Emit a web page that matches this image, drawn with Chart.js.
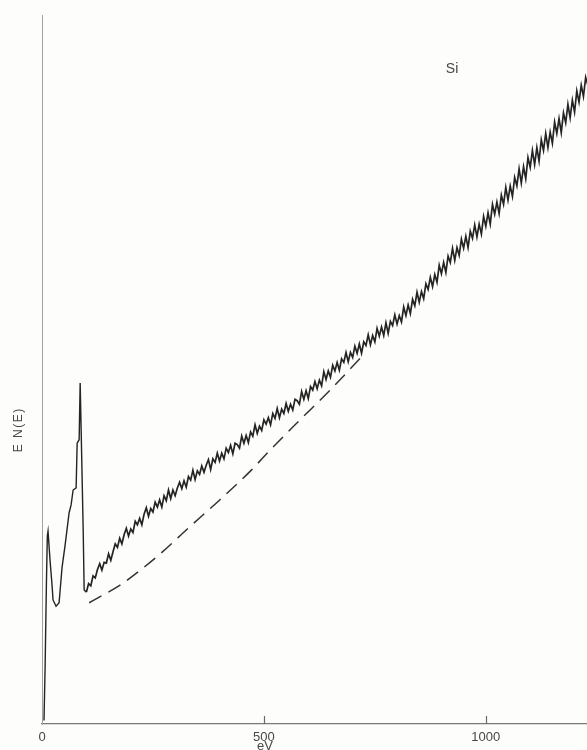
<!DOCTYPE html>
<html>
<head>
<meta charset="utf-8">
<title>Si E N(E) spectrum</title>
<script src="https://cdn.jsdelivr.net/npm/chart.js@4.4.1/dist/chart.umd.min.js"></script>
<style>
  html, body { margin: 0; padding: 0; background: #fdfdfc; }
  #wrap { width: 587px; height: 750px; }
</style>
</head>
<body>
<div id="wrap"><canvas id="spectrumChart" width="587" height="750"></canvas></div>
<script>
// ----- Data (arbitrary units for E N(E)) -----
// low energy part: spike near zero and the Si LVV peak
const peakEnergy = [4.5, 7, 10, 12, 13.6, 15.8, 18.1, 22.6, 24.9, 31.7, 38.5, 45.2, 52.0,
  61.1, 65.6, 70.1, 76.9, 79.2, 83.7, 86.0, 88.2, 92.8, 95.0, 100];
const peakCounts = [0.5, 8, 20, 26.5, 27.2, 25.2, 23.1, 19.6, 17.5, 16.6, 17.1, 22.1, 25.2,
  29.8, 30.9, 33.0, 33.3, 39.6, 40.1, 48.1, 41.5, 27.4, 18.9, 18.6];

// noisy secondary spectrum above 100 eV
const mainEnergy = [
  100, 105, 110, 115, 120, 125, 130, 135, 140, 145,
  150, 155, 160, 165, 170, 175, 180, 185, 190, 195,
  200, 205, 210, 215, 220, 225, 230, 235, 240, 245,
  250, 255, 260, 265, 270, 275, 280, 285, 290, 295,
  300, 305, 310, 315, 320, 325, 330, 335, 340, 345,
  350, 355, 360, 365, 370, 375, 380, 385, 390, 395,
  400, 405, 410, 415, 420, 425, 430, 435, 440, 445,
  450, 455, 460, 465, 470, 475, 480, 485, 490, 495,
  500, 505, 510, 515, 520, 525, 530, 535, 540, 545,
  550, 555, 560, 565, 570, 575, 580, 585, 590, 595,
  600, 605, 610, 615, 620, 625, 630, 635, 640, 645,
  650, 655, 660, 665, 670, 675, 680, 685, 690, 695,
  700, 705, 710, 715, 720, 725, 730, 735, 740, 745,
  750, 755, 760, 765, 770, 775, 780, 785, 790, 795,
  800, 805, 810, 815, 820, 825, 830, 835, 840, 845,
  850, 855, 860, 865, 870, 875, 880, 885, 890, 895,
  900, 905, 910, 915, 920, 925, 930, 935, 940, 945,
  950, 955, 960, 965, 970, 975, 980, 985, 990, 995,
  1000, 1005, 1010, 1015, 1020, 1025, 1030, 1035, 1040, 1045,
  1050, 1055, 1060, 1065, 1070, 1075, 1080, 1085, 1090, 1095,
  1100, 1105, 1110, 1115, 1120, 1125, 1130, 1135, 1140, 1145,
  1150, 1155, 1160, 1165, 1170, 1175, 1180, 1185, 1190, 1195,
  1200, 1205, 1210, 1215, 1220, 1225, 1230];
const mainCounts = [
  18.6, 19.8, 19.5, 20.9, 20.6, 21.8, 22.6, 21.7, 22.8, 22.7,
  24.0, 23.1, 24.3, 25.4, 24.9, 26.2, 25.4, 26.7, 27.6, 26.5,
  27.5, 27.0, 28.6, 28.1, 29.0, 28.1, 29.6, 30.5, 29.3, 30.4,
  29.9, 31.3, 30.6, 31.6, 30.6, 32.2, 31.5, 33.0, 31.8, 33.0,
  32.2, 33.3, 34.1, 33.2, 34.3, 33.4, 34.9, 34.4, 35.8, 34.5,
  35.7, 35.2, 36.4, 35.5, 36.5, 37.3, 35.9, 37.4, 36.9, 38.2,
  37.1, 38.2, 37.4, 38.9, 38.3, 39.3, 38.1, 39.6, 39.4, 38.9,
  40.6, 39.6, 40.7, 39.7, 41.2, 40.6, 42.2, 41.0, 42.0, 41.4,
  42.9, 42.3, 43.2, 42.2, 43.8, 43.1, 44.5, 43.2, 44.4, 43.8,
  45.2, 44.1, 45.1, 44.3, 45.8, 45.6, 45.1, 46.9, 45.8, 47.0,
  45.9, 47.6, 47.1, 48.3, 47.3, 48.5, 47.7, 49.7, 48.6, 49.8,
  48.9, 50.6, 49.8, 51.0, 49.9, 51.5, 51.0, 52.4, 51.1, 52.4,
  51.7, 53.3, 52.3, 53.6, 52.3, 53.9, 53.4, 54.9, 53.5, 54.8,
  53.9, 55.8, 54.7, 56.0, 54.8, 56.6, 55.1, 56.8, 56.2, 57.7,
  56.4, 57.6, 56.7, 58.8, 57.6, 59.1, 57.9, 59.9, 59.0, 60.9,
  59.5, 61.0, 60.0, 62.1, 61.3, 63.0, 61.7, 63.4, 62.3, 64.7,
  63.5, 65.1, 63.7, 66.0, 65.1, 67.1, 65.4, 67.2, 66.1, 68.4,
  67.1, 68.8, 67.2, 69.5, 68.5, 70.4, 68.7, 70.5, 69.1, 71.6,
  70.2, 72.1, 70.5, 73.3, 71.9, 73.6, 72.0, 74.6, 73.3, 75.7,
  73.9, 75.9, 74.4, 77.1, 75.9, 78.3, 76.3, 78.6, 76.9, 79.9,
  78.5, 80.9, 78.9, 81.3, 79.4, 82.4, 80.9, 83.3, 81.3, 83.5,
  81.9, 84.9, 83.3, 85.4, 83.4, 86.2, 84.8, 87.4, 85.5, 88.0,
  86.3, 89.3, 87.7, 90.1, 88.5, 91.2, 90.1];

// dashed background curve
const bgEnergy = [106.3, 129.0, 174.2, 219.5, 264.7, 332.6, 400.4, 468.3, 518.1, 581.4, 649.3, 717.2];
const bgCounts = [17.1, 17.9, 19.5, 21.6, 23.9, 27.8, 31.6, 35.6, 38.9, 42.9, 47.1, 51.6];

const xTickValues = [0, 500, 1000];
const sampleLabel = "Si";
const xAxisLabel = "eV";
const yAxisLabel = "E N(E)";

const inkColor = "#242424";
const textColor = "#474747";
const fontFamily = "'Liberation Sans', Arial, sans-serif";

function toPoints(xs, ys) {
  return xs.map((x, i) => ({ x: x, y: ys[i] }));
}

// ----- Extra drawing: inward ticks and free text labels -----
const labelPlugin = {
  id: "labelPlugin",
  afterDraw(chart) {
    const ctx = chart.ctx;
    const xScale = chart.scales.x;
    const yScale = chart.scales.y;
    ctx.save();

    // short tick marks pointing up into the plot
    ctx.strokeStyle = "#6a6a6a";
    ctx.lineWidth = 1.2;
    xTickValues.forEach(v => {
      if (v === 0) return;
      const px = Math.round(xScale.getPixelForValue(v)) + 0.5;
      ctx.beginPath();
      ctx.moveTo(px, yScale.bottom);
      ctx.lineTo(px, yScale.bottom - 8);
      ctx.stroke();
    });

    ctx.fillStyle = textColor;
    ctx.textAlign = "center";
    ctx.textBaseline = "middle";

    // sample name
    ctx.font = "14px " + fontFamily;
    ctx.fillText(sampleLabel, xScale.getPixelForValue(924), yScale.getPixelForValue(92.4));

    // x axis name, sits under the 500 label
    ctx.font = "13px " + fontFamily;
    ctx.fillText(xAxisLabel, xScale.getPixelForValue(500) + 1, xScale.top + 22);

    // y axis name, rotated
    ctx.font = "12px " + fontFamily;
    ctx.letterSpacing = "1.5px";
    ctx.translate(chart.chartArea.left - 23, yScale.getPixelForValue(41.5));
    ctx.rotate(-Math.PI / 2);
    ctx.fillText(yAxisLabel, 0, 0);

    ctx.restore();
  }
};

// ----- Chart -----
window.onload = function() {
  const ctx = document.getElementById("spectrumChart").getContext("2d");
  new Chart(ctx, {
    type: "scatter",
    data: {
      datasets: [
        {
          label: "peak",
          data: toPoints(peakEnergy, peakCounts),
          showLine: true,
          borderColor: inkColor,
          borderWidth: 1.4,
          pointRadius: 0
        },
        {
          label: "spectrum",
          data: toPoints(mainEnergy, mainCounts),
          showLine: true,
          borderColor: inkColor,
          borderWidth: 1.7,
          pointRadius: 0
        },
        {
          label: "background",
          data: toPoints(bgEnergy, bgCounts),
          showLine: true,
          borderColor: "#333",
          borderWidth: 1.5,
          borderDash: [14, 8],
          cubicInterpolationMode: "monotone",
          pointRadius: 0
        }
      ]
    },
    options: {
      responsive: false,
      animation: false,
      layout: { padding: { top: 15, right: 0, bottom: 0, left: 0 } },
      plugins: {
        legend: { display: false },
        tooltip: { enabled: false }
      },
      scales: {
        x: {
          type: "linear",
          min: 0,
          max: 1228,
          afterBuildTicks: scale => {
            scale.ticks = xTickValues.map(v => ({ value: v }));
          },
          afterFit: scale => { scale.height = 26; },
          grid: { display: false, drawTicks: false },
          border: { display: true, color: "#7a7a7a", width: 1.3 },
          ticks: {
            color: textColor,
            padding: 6,
            maxRotation: 0,
            autoSkip: false,
            font: { family: fontFamily, size: 13 },
            callback: value => String(value)
          }
        },
        y: {
          type: "linear",
          min: 0,
          max: 100,
          afterFit: scale => { scale.width = 42; },
          grid: { display: false, drawTicks: false },
          border: { display: true, color: "#a0a0a0", width: 1 },
          ticks: { display: false }
        }
      }
    },
    plugins: [labelPlugin]
  });
};
</script>
</body>
</html>
